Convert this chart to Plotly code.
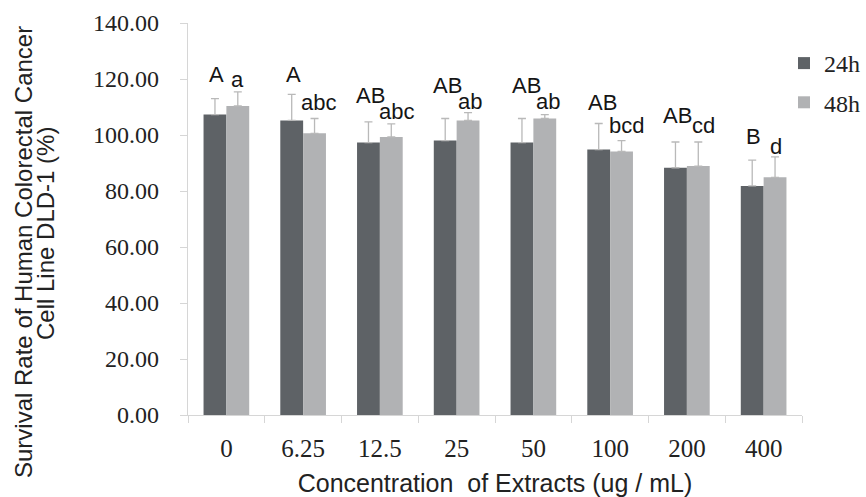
import plotly.graph_objects as go

# Extract concentrations (ug/mL) and survival rates (%) of DLD-1 cells
concentrations = ["0", "6.25", "12.5", "25", "50", "100", "200", "400"]
survival_24h = [107.3, 105.2, 97.3, 98.0, 97.3, 94.8, 88.3, 81.8]
sd_24h = [5.7, 9.3, 7.4, 7.9, 8.6, 9.3, 9.2, 9.2]
survival_48h = [110.4, 100.6, 99.3, 105.2, 105.9, 94.1, 88.9, 84.9]
sd_48h = [5.0, 5.3, 4.7, 2.8, 1.4, 3.9, 8.6, 7.3]

# Significance letters for each group
letters_24h = ["A", "A", "AB", "AB", "AB", "AB", "AB", "B"]
letters_48h = ["a", "abc", "abc", "ab", "ab", "bcd", "cd", "d"]

# Placement of the letters (baseline height in axis units, horizontal shift in px)
letter_y_24h = [118.6, 118.6, 111.2, 114.8, 114.8, 108.6, 104.1, 96.4]
letter_y_48h = [116.8, 108.5, 105.5, 108.9, 108.9, 100.5, 100.3, 92.8]
letter_dx_24h = [-10, -10, -9, -9, -7, -8, -9, -10]
letter_dx_48h = [11, 15, 17, 13, 15, 16, 17, 12]

y_ticks = [0, 20, 40, 60, 80, 100, 120, 140]

W, H = 866, 497
L, R, T, B = 188, 64, 23, 82
plot_w = W - L - R

DARK = "#5e6266"
LIGHT = "#b1b2b4"
ERR = "#b9b9b9"
AXIS = "#d6d6d6"
SERIF = "Liberation Serif"
SANS = "Liberation Sans"

fig = go.Figure()
fig.add_trace(go.Bar(
    name="24h", x=concentrations, y=survival_24h, marker_color=DARK,
    marker_line_width=0, legendgroup="a",
    error_y=dict(type="data", array=sd_24h, arrayminus=[0] * len(sd_24h),
                 symmetric=False, color=ERR, thickness=1.3, width=4),
))
fig.add_trace(go.Bar(
    name="48h", x=concentrations, y=survival_48h, marker_color=LIGHT,
    marker_line_width=0, legendgroup="b",
    error_y=dict(type="data", array=sd_48h, arrayminus=[0] * len(sd_48h),
                 symmetric=False, color=ERR, thickness=1.3, width=4),
))

annotations = []
letter_font = dict(family=SANS, size=22, color="#151515")
for i in range(len(concentrations)):
    annotations.append(dict(x=i, y=letter_y_24h[i], text=letters_24h[i],
                            showarrow=False, xshift=letter_dx_24h[i],
                            yanchor="bottom", yshift=-6, font=letter_font))
    annotations.append(dict(x=i, y=letter_y_48h[i], text=letters_48h[i],
                            showarrow=False, xshift=letter_dx_48h[i],
                            yanchor="bottom", yshift=-6, font=letter_font))


def px_to_paper_x(px):
    return (px - L) / plot_w


def px_to_paper_y(py):
    return (H - B - py) / (H - T - B)


# two-line rotated y title
title_font = dict(family=SANS, size=24, color="#222222")
annotations.append(dict(xref="paper", yref="paper", x=px_to_paper_x(26),
                        y=px_to_paper_y(252), textangle=-90,
                        text="Survival Rate of Human Colorectal Cancer",
                        showarrow=False, xanchor="center", yanchor="middle",
                        xshift=-2, font=title_font))
annotations.append(dict(xref="paper", yref="paper", x=px_to_paper_x(48),
                        y=px_to_paper_y(234), textangle=-90,
                        text="Cell Line DLD-1 (%)",
                        showarrow=False, xanchor="center", yanchor="middle",
                        xshift=-2, font=title_font))

fig.update_layout(
    width=W, height=H,
    margin=dict(l=L, r=R, t=T, b=B, pad=0, autoexpand=False),
    paper_bgcolor="white", plot_bgcolor="white",
    barmode="group", bargap=0.405, bargroupgap=0,
    showlegend=True,
    legend=dict(xref="container", yref="container",
                x=784 / W, xanchor="left",
                y=1 - 41 / H, yanchor="top",
                font=dict(family=SERIF, size=24, color="#222222"),
                tracegroupgap=5, bgcolor="rgba(0,0,0,0)",
                itemwidth=30),
    annotations=annotations,
    font=dict(family=SERIF, color="#222222"),
)

fig.update_xaxes(
    type="category", range=[-0.5, len(concentrations) - 0.5], automargin=False,
    showline=True, linecolor=AXIS, linewidth=1.3,
    ticks="outside", tickson="boundaries", ticklen=7, tickcolor=AXIS,
    tickfont=dict(family=SERIF, size=25, color="#222222"), tickangle=0,
    ticklabelstandoff=11, showgrid=False, zeroline=False,
    title=dict(text="Concentration  of Extracts (ug / mL)",
               font=dict(family=SANS, size=25, color="#222222"), standoff=17),
)
fig.update_yaxes(
    range=[0, 140], tickvals=y_ticks, ticktext=[f"{v:.2f}" for v in y_ticks],
    automargin=False,
    showline=True, linecolor=AXIS, linewidth=1.3,
    ticks="outside", ticklen=7, tickcolor=AXIS,
    tickfont=dict(family=SERIF, size=24, color="#222222"),
    ticklabelstandoff=16, showgrid=False, zeroline=False,
)

fig.write_html("out.html")
